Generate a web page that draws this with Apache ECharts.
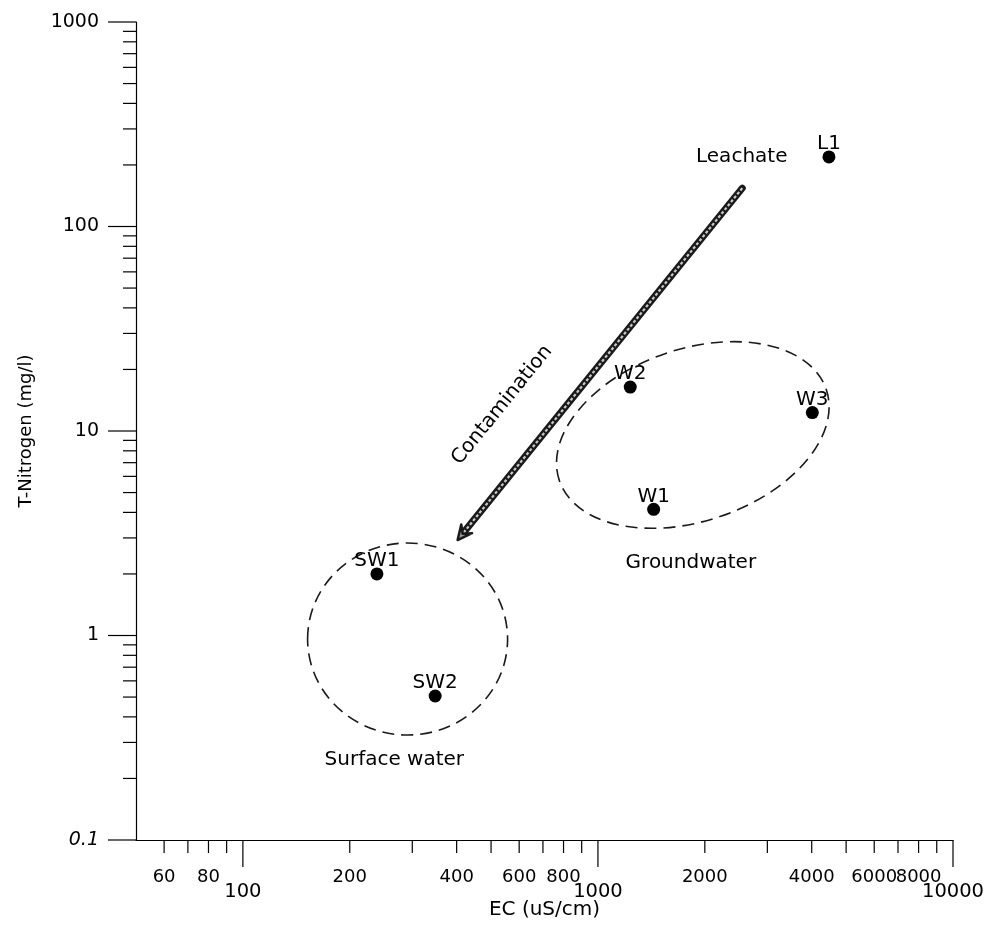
<!DOCTYPE html>
<html><head><meta charset="utf-8">
<script src="https://cdn.jsdelivr.net/npm/echarts@6/dist/echarts.min.js"></script>
<style>html,body{margin:0;padding:0;background:#fff}#c{width:984px;height:930px}</style>
</head><body><div id="c"></div>
<script>
// ---- data ----
const pointNames = ['L1', 'W2', 'W3', 'W1', 'SW1', 'SW2'];
const ecValues = [4473, 1233, 4016, 1435, 238.5, 348];      // EC (uS/cm)
const tnValues = [219, 16.4, 12.3, 4.14, 2.0, 0.506];       // T-Nitrogen (mg/l)

// ---- axis ticks / labels ----
const X_MIN = 50, X_MAX = 10000, Y_MIN = 0.1, Y_MAX = 1000;
const xMajorTicks = [100, 1000, 10000];
const xMinorTicks = [60, 70, 80, 90, 200, 300, 400, 500, 600, 700, 800, 900, 2000, 3000, 4000, 5000, 6000, 7000, 8000, 9000];
const xSmallLabels = [60, 80, 200, 400, 600, 800, 2000, 4000, 6000, 8000];
const xBigLabels = [100, 1000, 10000];
const yMajorTicks = [0.1, 1, 10, 100, 1000];
const yMinorTicks = [0.2, 0.3, 0.4, 0.5, 0.6, 0.7, 0.8, 0.9, 2, 3, 4, 5, 6, 7, 8, 9, 20, 30, 40, 50, 60, 70, 80, 90, 200, 300, 400, 500, 600, 700, 800, 900];
const yLabels = ['0.1', '1', '10', '100', '1000'];

// ---- annotation anchors (data coordinates) ----
const ellipseCenters = [[1850, 9.56], [291, 0.961]];
const arrowFrom = [2550, 154];
const arrowTo = [402.5, 2.93];
const annotationTexts = ['Leachate', 'Contamination', 'Groundwater', 'Surface water'];
const annotationEC = [2541, 537, 1827, 267];
const annotationTN = [219, 13.4, 2.26, 0.246];

// ---- styles ----
const FONT = "'DejaVu Sans', sans-serif";
const ellipseStyles = [{rx: 141, ry: 86, rot: 0.33}, {rx: 100, ry: 96, rot: 0}];
const annotationRot = [0, 0.89, 0, 0];

function textEl(x, y, txt, size, align, opts) {
  opts = opts || {};
  return {
    type: 'text', x: x, y: y, rotation: opts.rotation || 0,
    style: {
      text: txt, fill: '#000', font: (opts.italic ? 'italic ' : '') + size + 'px ' + FONT,
      align: align, verticalAlign: 'middle', textAlign: align, textVerticalAlign: 'middle'
    }
  };
}

function tickSeries(values, axis, len) {
  return {
    type: 'custom', coordinateSystem: 'cartesian2d', silent: true, clip: false, z: 5,
    data: values.map(v => axis === 'x' ? [v, Y_MIN] : [X_MIN, v]),
    renderItem: (params, api) => {
      const p = api.coord([api.value(0), api.value(1)]);
      const shape = axis === 'x'
        ? {x1: p[0], y1: p[1], x2: p[0], y2: p[1] + len}
        : {x1: p[0] - len, y1: p[1], x2: p[0], y2: p[1]};
      return {type: 'line', shape: shape, style: {stroke: '#000', lineWidth: 1.2}};
    }
  };
}

function xLabelSeries(values, size, dy) {
  return {
    type: 'custom', coordinateSystem: 'cartesian2d', silent: true, clip: false, z: 5,
    data: values.map(v => [v, Y_MIN]),
    renderItem: (params, api) => {
      const p = api.coord([api.value(0), api.value(1)]);
      return textEl(p[0], p[1] + dy, String(values[params.dataIndex]), size, 'center');
    }
  };
}

const series = [
  tickSeries(xMajorTicks, 'x', 27),
  tickSeries(xMinorTicks, 'x', 13),
  tickSeries(yMajorTicks, 'y', 28),
  tickSeries(yMinorTicks, 'y', 13),
  xLabelSeries(xSmallLabels, 18, 37),
  xLabelSeries(xBigLabels, 19.5, 52),
  {
    type: 'custom', coordinateSystem: 'cartesian2d', silent: true, clip: false, z: 5,
    data: yMajorTicks.map(v => [X_MIN, v]),
    renderItem: (params, api) => {
      const p = api.coord([api.value(0), api.value(1)]);
      const i = params.dataIndex;
      return textEl(p[0] - 37, p[1], yLabels[i], 19, 'right', {italic: i === 0});
    }
  },
  // ellipses
  {
    type: 'custom', coordinateSystem: 'cartesian2d', silent: true, clip: false, z: 3,
    data: ellipseCenters,
    renderItem: (params, api) => {
      const p = api.coord([api.value(0), api.value(1)]);
      const s = ellipseStyles[params.dataIndex];
      return {
        type: 'ellipse', x: p[0], y: p[1], rotation: s.rot,
        shape: {cx: 0, cy: 0, rx: s.rx, ry: s.ry},
        style: {fill: 'none', stroke: '#1a1a1a', lineWidth: 1.6, lineDash: [12, 7]}
      };
    }
  },
  // arrow
  {
    type: 'custom', coordinateSystem: 'cartesian2d', silent: true, clip: false, z: 4,
    data: [[arrowFrom[0], arrowFrom[1], arrowTo[0], arrowTo[1]]],
    encode: {x: [0, 2], y: [1, 3]},
    renderItem: (params, api) => {
      const a = api.coord([api.value(0), api.value(1)]);
      const b = api.coord([api.value(2), api.value(3)]);
      const ang = Math.atan2(b[1] - a[1], b[0] - a[0]);
      const L = 16, w = 0.45;
      const tail = [b[0] - 8 * Math.cos(ang), b[1] - 8 * Math.sin(ang)];
      const w1 = [b[0] - L * Math.cos(ang - w), b[1] - L * Math.sin(ang - w)];
      const w2 = [b[0] - L * Math.cos(ang + w), b[1] - L * Math.sin(ang + w)];
      return {
        type: 'group', children: [
          {type: 'line', shape: {x1: a[0], y1: a[1], x2: tail[0], y2: tail[1]},
           style: {stroke: '#1a1a1a', lineWidth: 7, lineCap: 'round'}},
          {type: 'line', shape: {x1: a[0], y1: a[1], x2: tail[0], y2: tail[1]},
           style: {stroke: '#c8c8c8', lineWidth: 2.2, lineDash: [3, 2]}},
          {type: 'polygon', shape: {points: [b, w1, tail, w2]},
           style: {fill: '#9a9a9a', stroke: '#1a1a1a', lineWidth: 2.5, lineJoin: 'round'}}
        ]
      };
    }
  },
  // annotation texts
  {
    type: 'custom', coordinateSystem: 'cartesian2d', silent: true, clip: false, z: 6,
    data: annotationEC.map((x, i) => [x, annotationTN[i]]),
    renderItem: (params, api) => {
      const p = api.coord([api.value(0), api.value(1)]);
      const i = params.dataIndex;
      return textEl(p[0], p[1], annotationTexts[i], 20, 'center', {rotation: annotationRot[i]});
    }
  },
  // data points
  {
    type: 'scatter', z: 7, symbol: 'circle', symbolSize: 13,
    itemStyle: {color: '#000', opacity: 1},
    data: pointNames.map((n, i) => ({name: n, value: [ecValues[i], tnValues[i]]})),
    label: {
      show: true, position: 'inside', offset: [0, -13], formatter: '{b}',
      color: '#000', fontSize: 20, fontFamily: FONT
    }
  }
];

const chart = echarts.init(document.getElementById('c'), null, {renderer: 'canvas'});
chart.setOption({
  animation: false,
  backgroundColor: '#fff',
  grid: {left: 136, right: 31, top: 22, bottom: 90, containLabel: false},
  xAxis: {
    type: 'log', logBase: 10, min: X_MIN, max: X_MAX,
    name: 'EC (uS/cm)', nameLocation: 'middle', nameGap: 60,
    nameTextStyle: {fontSize: 20, fontFamily: FONT, color: '#000'},
    axisLine: {show: true, lineStyle: {color: '#000', width: 1.2}},
    axisTick: {show: false}, axisLabel: {show: false},
    splitLine: {show: false}, minorTick: {show: false}, minorSplitLine: {show: false}
  },
  yAxis: {
    type: 'log', logBase: 10, min: Y_MIN, max: Y_MAX,
    name: 'T-Nitrogen (mg/l)', nameLocation: 'middle', nameGap: 101, nameRotate: 90,
    nameTextStyle: {fontSize: 18, fontFamily: FONT, color: '#000'},
    axisLine: {show: true, lineStyle: {color: '#000', width: 1.2}},
    axisTick: {show: false}, axisLabel: {show: false},
    splitLine: {show: false}, minorTick: {show: false}, minorSplitLine: {show: false}
  },
  series: series
});
</script></body></html>
